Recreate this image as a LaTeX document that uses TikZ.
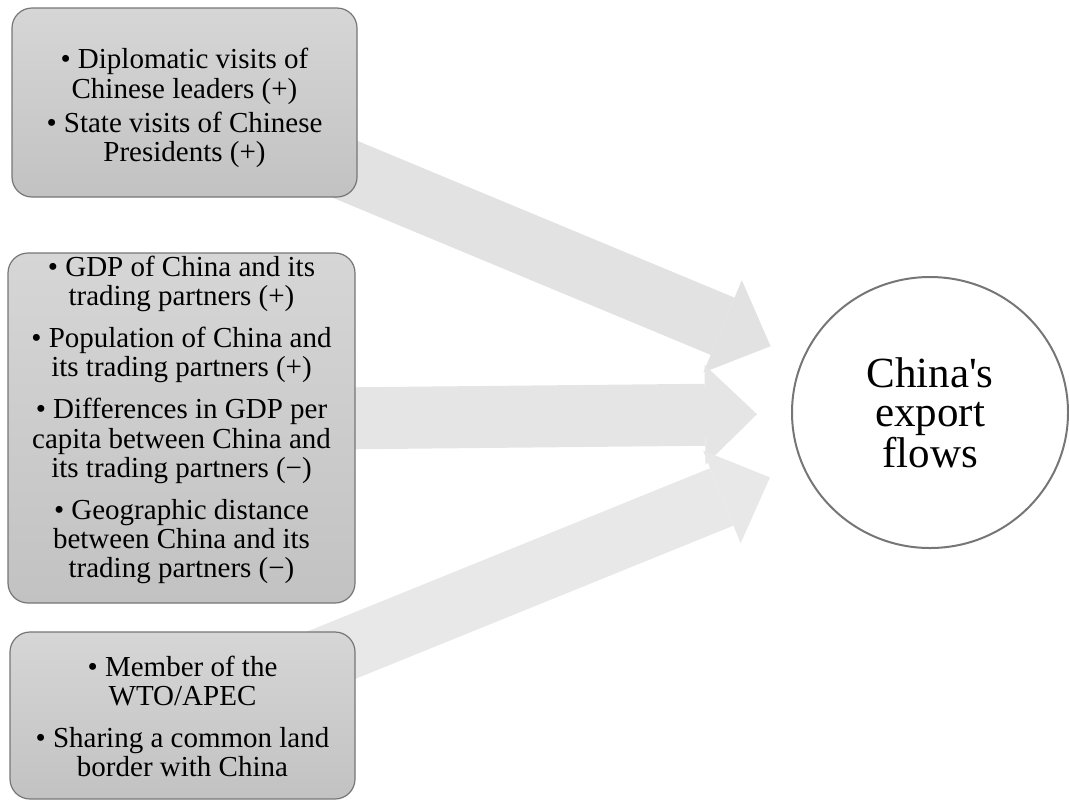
\documentclass[tikz,border=0pt]{standalone}
\usepackage{fontspec}
\setmainfont{Liberation Serif}
\usetikzlibrary{arrows.meta, shapes.geometric, backgrounds}

\definecolor{boxtop}{RGB}{214,214,214}
\definecolor{boxbottom}{RGB}{194,194,194}
\definecolor{boxline}{RGB}{118,118,118}
\definecolor{flowA}{RGB}{226,226,226}
\definecolor{flowB}{RGB}{229,229,229}
\definecolor{flowC}{RGB}{232,232,232}

\begin{document}
\begin{tikzpicture}[x=0.5pt, y=-0.5pt,
    factor/.style={draw=boxline, line width=0.6pt, rounded corners=10pt,
        top color=boxtop, bottom color=boxbottom, align=center, inner sep=0pt,
        font=\fontsize{14.5}{14.6}\selectfont},
    bigarrow/.style={line width=31pt, shorten >=17pt,
        -{Triangle[length=26pt, width=50pt, line width=0pt]}}]
        \useasboundingbox (0,0) rectangle (1069,800);

        \node[factor, minimum width=172.5pt, minimum height=94.5pt, text height=62.1pt] (diplomacy) at (184.5,102.5)
            {• Diplomatic visits of\\Chinese leaders (+)\\[2.5pt]• State visits of Chinese\\Presidents (+)};
        \node[factor, minimum width=173.5pt, minimum height=175pt, text height=153.1pt] (gravity) at (181.5,428)
            {• GDP of China and its\\trading partners (+)\\[6.5pt]• Population of China and\\its trading partners (+)\\[6.5pt]%
             • Differences in GDP per\\capita between China and\\its trading partners (−)\\[6.5pt]%
             • Geographic distance\\between China and its\\trading partners (−)};
        \node[factor, minimum width=172.5pt, minimum height=83.5pt, text height=61.5pt] (member) at (182.5,715.5)
            {• Member of the\\WTO/APEC\\[6.5pt]• Sharing a common land\\border with China};

        \node[draw=boxline, line width=1pt, ellipse, minimum width=138pt, minimum height=135.5pt,
            align=center, font=\fontsize{21.5}{19.5}\selectfont] (flows) at (930,412.5)
            {China\textquotesingle s\\export\\flows};

        \begin{scope}[on background layer]
            \draw[bigarrow, flowA] (diplomacy.center) -- (flows);
            \draw[bigarrow, flowB] ([yshift=4pt]gravity.center) -- (flows);
            \draw[bigarrow, flowC] (member.center) -- (flows);
        \end{scope}
    \end{tikzpicture}
\end{document}
